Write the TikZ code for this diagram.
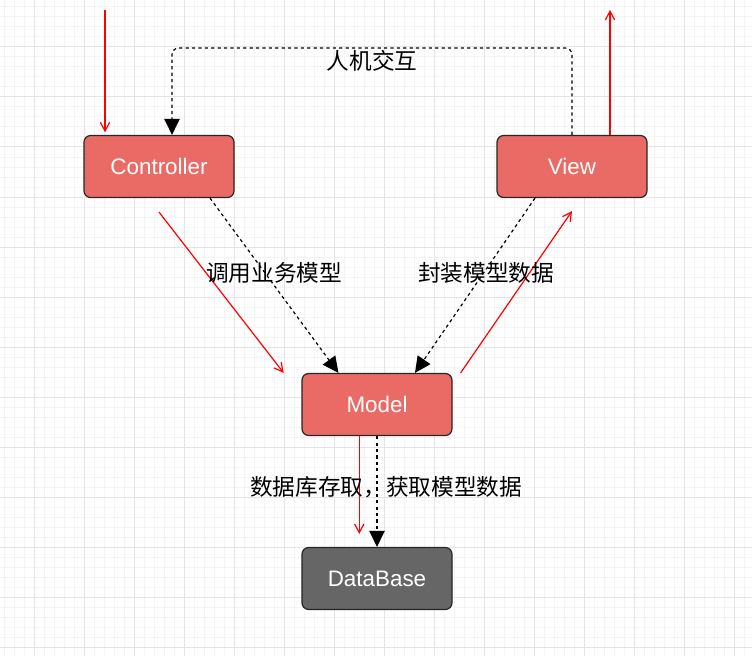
\documentclass[tikz,border=0pt]{standalone}
\usepackage{fontspec}
\setmainfont{Liberation Sans}
\newfontfamily\cjk{Noto Sans CJK SC}
\usetikzlibrary{arrows.meta}
\definecolor{boxred}{HTML}{EA6B66}
\definecolor{boxgray}{HTML}{666666}
\definecolor{gridmaj}{HTML}{E4E4E4}
\definecolor{gridmin}{HTML}{F4F4F4}
\tikzset{
  mvcbox/.style={draw=black!85, line width=.9pt, rounded corners=5pt, fill=boxred, text=white,
    minimum width=112.5pt, minimum height=46.5pt, inner sep=0pt, font=\fontsize{16.8}{20}\selectfont},
  dbbox/.style={mvcbox, fill=boxgray},
  redarr/.style={red, line width=.9pt, -{Straight Barb[length=6.5pt,width=7pt]}},
  dasharr/.style={black, line width=.9pt, dash pattern=on 2.4pt off 2.4pt, -{Triangle[length=12pt,width=11.5pt]}},
  lbl/.style={font=\cjk\fontsize{17}{20}\selectfont, inner sep=0pt},
  gridline/.style={line width=.75pt}
}
\begin{document}
\begin{tikzpicture}[x=.75pt, y=-.75pt]
  \useasboundingbox (0,0) rectangle (752,656);
  \fill[white] (0,0) rectangle (752,656);
  \foreach \x in {4,14,...,744} \draw[gridline,gridmin] (\x,0)--(\x,656);
  \foreach \y in {7,17,...,647} \draw[gridline,gridmin] (0,\y)--(752,\y);
  \foreach \x in {34,84,...,734} \draw[gridline,gridmaj] (\x,0)--(\x,656);
  \foreach \y in {47,97,...,647} \draw[gridline,gridmaj] (0,\y)--(752,\y);

  \node[mvcbox] (ctrl) at (159,166.5) {Controller};
  \node[mvcbox] (view) at (572,166.5) {View};
  \node[mvcbox] (model) at (377,404.5) {Model};
  \node[dbbox] (db) at (377,578.5) {DataBase};

  \coordinate (userin) at (105,10);
  \coordinate (userout) at (610,10);
  \coordinate (loop) at (372,48);
  \draw[redarr, shorten >=2pt] (userin) -- (userin |- ctrl.north);
  \draw[redarr] (userout |- view.north) -- (userout);
  \draw[dasharr, rounded corners=5pt] (view.north) |- (loop) -| ([xshift=9.75pt]ctrl.north);

  \draw[dasharr] ([xshift=38.25pt]ctrl.south) -- ([xshift=-28.9pt]model.north);
  \draw[dasharr] ([xshift=-27.75pt]view.south) -- ([xshift=28.5pt]model.north);
  \draw[redarr] ([yshift=-10.5pt]ctrl.south) -- ([xshift=-13.3pt]model.north west);
  \draw[redarr] ([xshift=6pt]model.north east) -- ([yshift=-9.75pt]view.south);
  \draw[redarr] ([xshift=-13.3pt]model.south) -- ([xshift=-13.3pt,yshift=9.75pt]db.north);
  \draw[dasharr] (model.south) -- (db.north);

  \node[lbl] (hci) at (372,61) {人机交互};
  \node[lbl] (call) at (274,273) {调用业务模型};
  \node[lbl] (wrap) at (486,273) {封装模型数据};
  \node[lbl] (store) at (386,487) {数据库存取，获取模型数据};
\end{tikzpicture}
\end{document}
